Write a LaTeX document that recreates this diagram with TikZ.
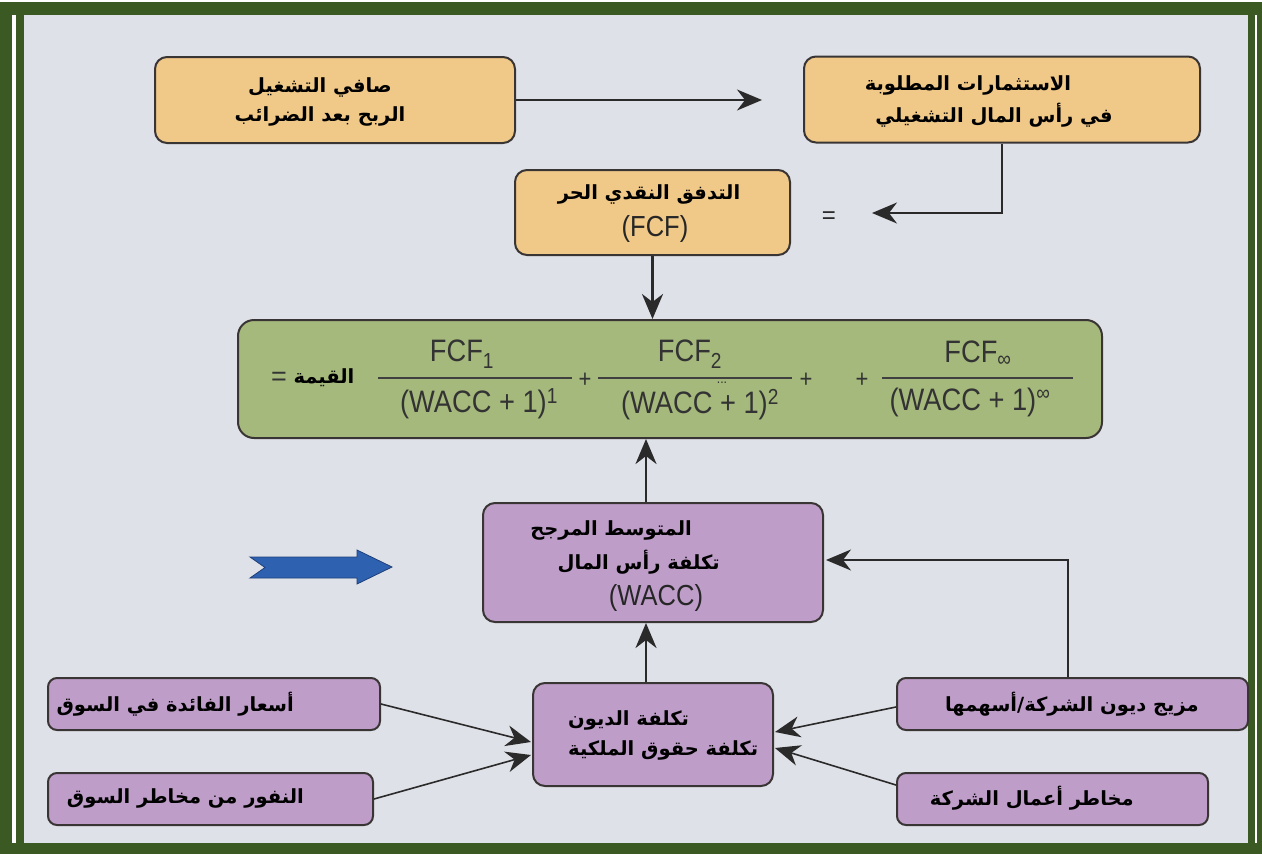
\documentclass[tikz,border=0pt]{standalone}
\usepackage{fontspec}
\usetikzlibrary{arrows.meta}
\TeXXeTstate=1
\newfontfamily\arfont[Script=Arabic]{DejaVu Sans}
\newfontfamily\latfont{Liberation Sans}
\newfontfamily\condfont[FakeStretch=0.88]{Liberation Sans}
\definecolor{framegreen}{HTML}{3B5A23}
\definecolor{bgc}{HTML}{DFE1E8}
\definecolor{orangec}{HTML}{F0C888}
\definecolor{greenc}{HTML}{A5B97C}
\definecolor{purplec}{HTML}{BF9DC9}
\definecolor{boxline}{HTML}{3A3535}
\definecolor{linec}{HTML}{2A2A2A}
\definecolor{bluec}{HTML}{2E62B0}
\definecolor{blueline}{HTML}{1E3F7A}
\tikzset{
  box/.style={draw=boxline, line width=2pt, rounded corners=12pt, inner sep=0pt},
  orangebox/.style={box, fill=orangec},
  greenbox/.style={box, fill=greenc, rounded corners=16pt},
  purplebox/.style={box, fill=purplec},
  smallbox/.style={box, fill=purplec, rounded corners=9pt},
  conn/.style={draw=linec, line width=1.6pt, -{Stealth[length=25pt,width=21pt,inset=8pt]}},
  thickconn/.style={conn, line width=2.8pt},
  artxt/.style={font=\arfont\bfseries\fontsize{19.5}{22}\selectfont, text=black, inner sep=0pt},
  lattxt/.style={font=\condfont\fontsize{29}{32}\selectfont, text=black!85, inner sep=0pt},
  ftxt/.style={font=\condfont\fontsize{31}{34}\selectfont, text=black!80, inner sep=0pt},
  fracline/.style={draw=black!75, line width=1.3pt},
}
\begin{document}
\begin{tikzpicture}[x=1pt,y=-1pt]
\useasboundingbox (0,0) rectangle (1262,854);
\fill[white] (0,0) rectangle (1262,854);
\fill[framegreen] (0,2) rectangle (1262,854);
\fill[bgc] (24,15) rectangle (1248,843);
\fill[white] (12,15) rectangle (16,843);
\fill[white] (1255,15) rectangle (1257,843);

% top row
\node[orangebox, minimum width=360pt, minimum height=86pt] (nopat) at (335,100) {};
\node[artxt] (nopat1) at (320,87) {\beginR صافي التشغيل\endR};
\node[artxt] (nopat2) at (320,116) {\beginR الربح بعد الضرائب\endR};

\node[orangebox, minimum width=396pt, minimum height=86pt] (inv) at (1002,99.5) {};
\node[artxt] (inv1) at (968,85) {\beginR الاستثمارات المطلوبة\endR};
\node[artxt] (inv2) at (994,115) {\beginR في رأس المال التشغيلي\endR};

\coordinate (a1end) at (762,100);
\draw[conn] (nopat.east) -- (a1end);

% FCF
\node[orangebox, minimum width=275pt, minimum height=85pt] (fcf) at (652.5,212.5) {};
\node[artxt] (fcf1) at (649,194) {\beginR التدفق النقدي الحر\endR};
\node[lattxt] (fcf2) at (655,229) {(FCF)};
\node[lattxt, font=\latfont\fontsize{24}{28}\selectfont] (eq1) at (829,218) {=};
\coordinate (a2end) at (872,213);
\draw[conn] (inv.south) |- (a2end);

% value box
\node[greenbox, minimum width=864pt, minimum height=118pt] (val) at (670,379) {};
\draw[thickconn] (fcf.south) -- (fcf.south |- val.north);

\node[ftxt, font=\latfont\fontsize{27}{30}\selectfont] (veq) at (279,379) {=};
\node[artxt] (vlab) at (324,378) {\beginR القيمة\endR};
\coordinate (l1a) at (378,378); \coordinate (l1b) at (572,378);
\coordinate (l2a) at (598,378); \coordinate (l2b) at (792,378);
\coordinate (l3a) at (882,378); \coordinate (l3b) at (1073,378);
\draw[fracline] (l1a) -- (l1b);
\draw[fracline] (l2a) -- (l2b);
\draw[fracline] (l3a) -- (l3b);
\node[ftxt] (n1) at (462,354) {FCF\textsubscript{1}};
\node[ftxt] (d1) at (479,404) {(WACC + 1)\textsuperscript{1}};
\node[ftxt] (p1) at (585,380) {\fontsize{25}{25}\selectfont +};
\node[ftxt] (n2) at (690,354) {FCF\textsubscript{2}};
\node[ftxt, anchor=north] (dots) at (722,382) {\fontsize{14}{14}\selectfont ...};
\node[ftxt] (d2) at (700,405) {(WACC + 1)\textsuperscript{2}};
\node[ftxt] (p2) at (806,380) {\fontsize{25}{25}\selectfont +};
\node[ftxt] (p3) at (862,380) {\fontsize{25}{25}\selectfont +};
\node[ftxt] (n3) at (978,354) {FCF\textsubscript{∞}};
\node[ftxt] (d3) at (970,402) {(WACC + 1)\textsuperscript{∞}};

% WACC
\node[purplebox, minimum width=340pt, minimum height=119pt] (wacc) at (653,562.5) {};
\node[artxt, anchor=east] (w1) at (692,530) {\beginR المتوسط المرجح\endR};
\node[artxt, anchor=east] (w2) at (720,562) {\beginR تكلفة رأس المال\endR};
\node[lattxt] (w3) at (656,598) {(WACC)};
\draw[thickconn] ([xshift=-7pt]wacc.north) -- ([xshift=-7pt]wacc.north |- val.south);

% blue arrow
\fill[bluec, draw=blueline, line width=0.8pt]
  (250,557) -- (357,557) -- (357,550) -- (392,567) -- (357,584) -- (357,578)
  -- (250,578) -- (265,567.5) -- cycle;

% debt/equity box
\node[purplebox, minimum width=240pt, minimum height=103pt] (debt) at (653,734.5) {};
\node[artxt, anchor=west] (de1) at (568,720) {\beginR تكلفة الديون\endR};
\node[artxt, anchor=west] (de2) at (568,750) {\beginR تكلفة حقوق الملكية\endR};
\draw[thickconn] ([xshift=-7pt]debt.north) -- ([xshift=-7pt]debt.north |- wacc.south);

% left inputs
\node[smallbox, minimum width=332pt, minimum height=52pt] (rate) at (214,704) {};
\node[artxt, anchor=east] (rate1) at (294,704) {\beginR أسعار الفائدة في السوق\endR};
\node[smallbox, minimum width=325pt, minimum height=52pt] (avers) at (210.5,799) {};
\node[artxt, anchor=east] (avers1) at (304,798) {\beginR النفور من مخاطر السوق\endR};
\coordinate (dl1) at (531,742);
\coordinate (dl2) at (531,755);
\draw[conn] (rate.east) -- (dl1);
\draw[conn] (avers.east) -- (dl2);

% right inputs
\node[smallbox, minimum width=351pt, minimum height=52pt] (mix) at (1072.5,704) {};
\node[artxt, anchor=east] (mix1) at (1199,704) {\beginR مزيج ديون الشركة/أسهمها\endR};
\node[smallbox, minimum width=311pt, minimum height=52pt] (risk) at (1052.5,799) {};
\node[artxt, anchor=east] (risk1) at (1134,798) {\beginR مخاطر أعمال الشركة\endR};
\coordinate (dr1) at (775,732);
\coordinate (dr2) at (775,748);
\draw[conn] ([yshift=-3pt]mix.west) -- (dr1);
\draw[conn] ([yshift=14pt]risk.west) -- (dr2);
\coordinate (wr) at (826,560);
\draw[conn] ([xshift=-4.5pt]mix.north) |- (wr);
\end{tikzpicture}
\end{document}
